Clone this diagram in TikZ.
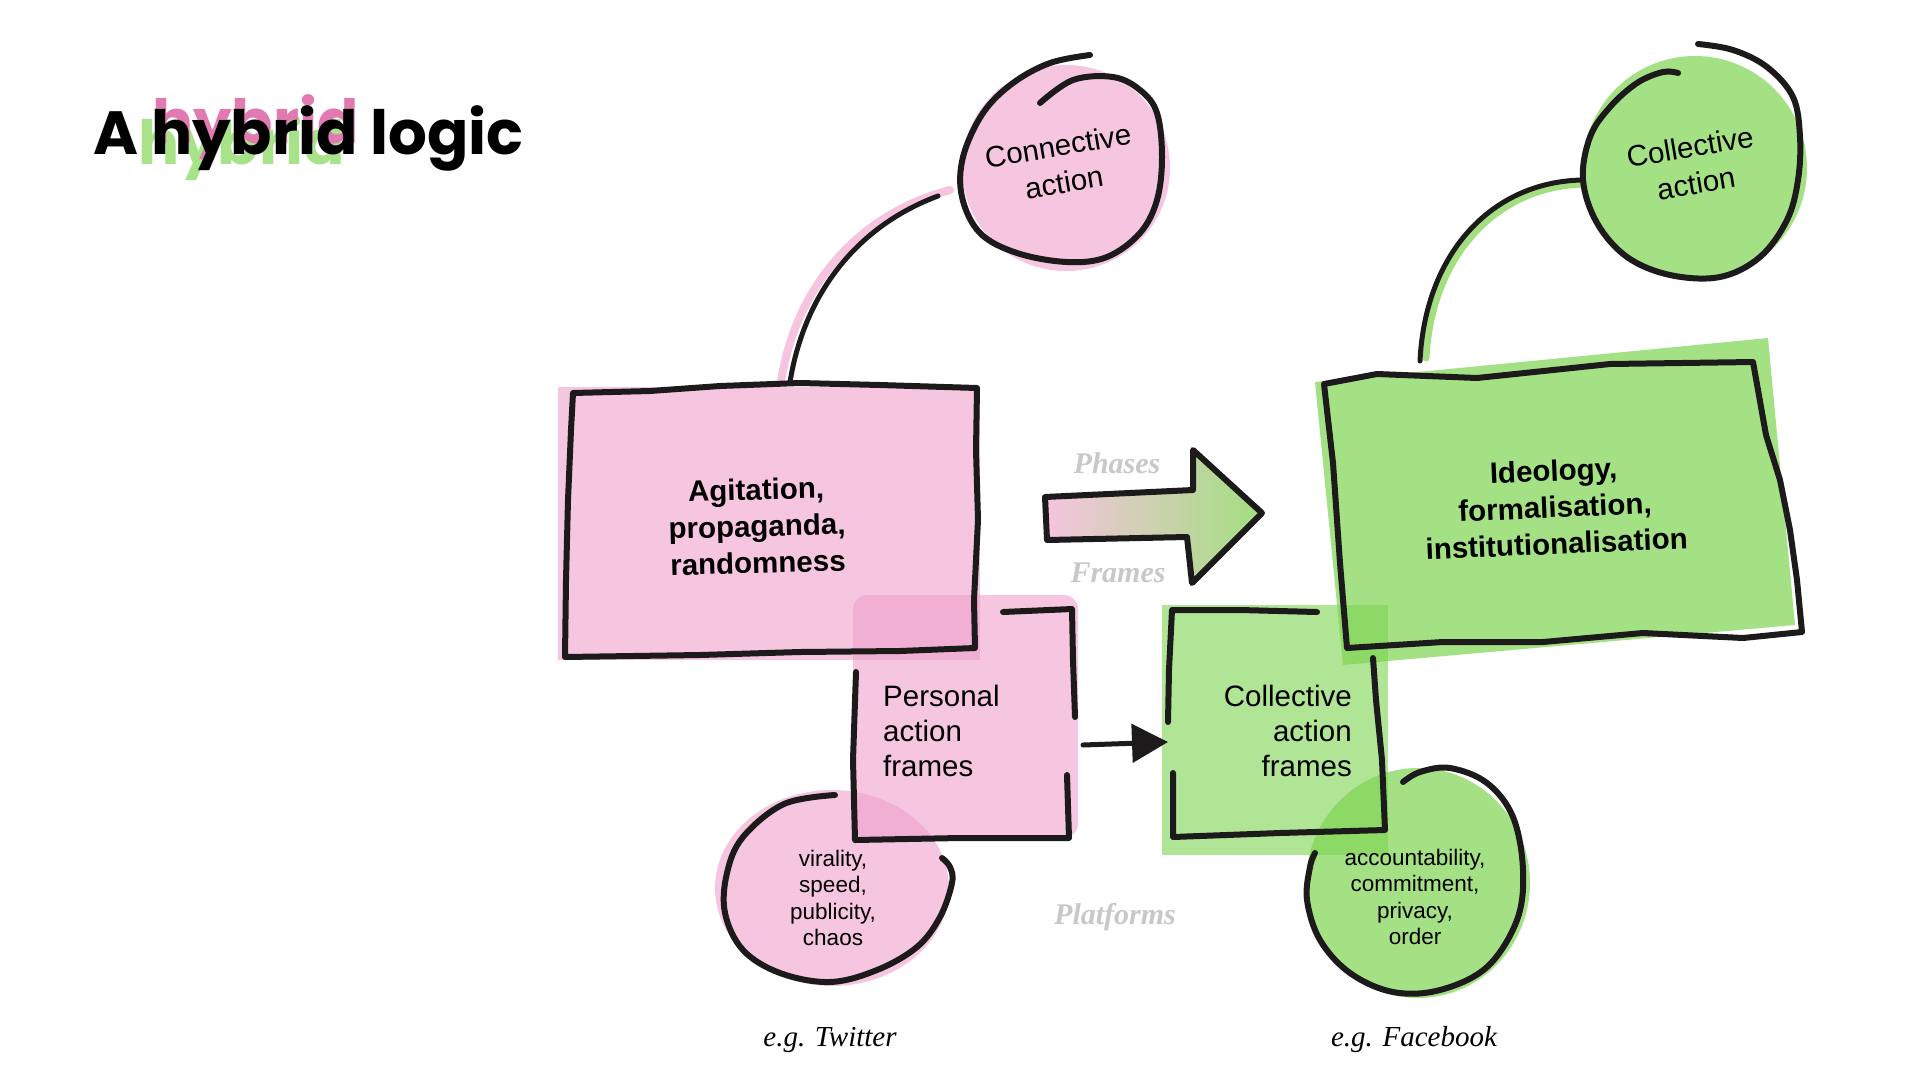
\documentclass[tikz,border=0pt]{standalone}
\usepackage{fontspec}
\setmainfont{Liberation Sans}
\newfontfamily\seriffont{Liberation Serif}
\newfontfamily\titlefont{Poppins}
\usetikzlibrary{arrows.meta}
\definecolor{pinkbase}{RGB}{240,160,204}
\definecolor{greenbase}{RGB}{126,213,81}
\definecolor{titlepink}{RGB}{224,122,176}
\definecolor{titlegreen}{RGB}{168,227,138}
\definecolor{shpink}{RGB}{246,196,223}
\definecolor{shgreen}{RGB}{163,222,128}
\definecolor{labelgray}{RGB}{200,200,200}
\definecolor{ink}{RGB}{28,26,26}
\tikzset{
  pen/.style={draw=ink, line width=6pt, line cap=round, line join=round},
  pinkfill/.style={fill=pinkbase, fill opacity=0.6},
  greenfill/.style={fill=greenbase, fill opacity=0.7},
  lightgreenfill/.style={fill=greenbase, fill opacity=0.6},
  boxtext/.style={font=\fontsize{29.5}{36.5}\selectfont\bfseries, align=center, inner sep=0pt},
  plaintext/.style={font=\fontsize{29.5}{35}\selectfont, inner sep=0pt},
  circtext/.style={font=\fontsize{29.5}{37}\selectfont, align=center, inner sep=0pt},
  smalltext/.style={font=\fontsize{22.5}{26.5}\selectfont, align=center, inner sep=0pt},
  graylabel/.style={font=\seriffont\fontsize{30}{36}\selectfont\bfseries\itshape, text=labelgray, inner sep=0pt},
  platlabel/.style={font=\seriffont\fontsize{29}{35}\selectfont\itshape, inner sep=0pt},
  titletext/.style={font=\titlefont\fontsize{61}{70}\selectfont\bfseries, inner sep=0pt, anchor=base west},
}
\begin{document}
\begin{tikzpicture}[x=1pt,y=-1pt]
\useasboundingbox[fill=white] (0,0) rectangle (1920,1080);

% ---------- title ----------
\node[titletext, text=titlegreen] (titleg) at (80,164) {\phantom{A }hybrid};
\node[titletext, text=titlepink] (titlep) at (94,143) {\phantom{A }hybrid};
\node[titletext] (title) at (93,154) {A hybrid logic};

% ---------- fills ----------
\fill[pinkfill] (1066,168) ellipse [x radius=104pt, y radius=103pt];
\fill[greenfill] (1695,168) ellipse [x radius=112pt, y radius=112pt];
\fill[pinkfill] (558,387) rectangle (980,660);
\fill[pinkfill, rounded corners=14pt] (853,838) -- (853,595) -- (1078,595) -- (1078,838) -- cycle;
\fill[pinkfill] (832,888) ellipse [x radius=117pt, y radius=98pt];
\fill[greenfill] (1315,382) -- (1768,338) -- (1795,625) -- (1343,665) -- cycle;
\fill[lightgreenfill] (1162,605) rectangle (1388,855);
\fill[greenfill] (1418,883) ellipse [x radius=112pt, y radius=115pt];

% ---------- anchor coordinates ----------
\coordinate (agitop) at (790,382);
\coordinate (conin) at (938,196);
\coordinate (ideotop) at (1420,361);
\coordinate (colin) at (1582,180);
\coordinate (persout) at (1083,745);
\coordinate (cafin) at (1168,742);

% ---------- connector shadows ----------
\draw[shpink, line width=8pt, line cap=round] (781,382) .. controls (795,290) and (855,215) .. (950,190);
\draw[shgreen, line width=7pt, line cap=round] (1426,358) .. controls (1431,258) and (1494,186) .. (1584,184);

% ---------- outlines ----------
% Agitation box
\draw[pen] (573,393) -- (650,391) -- (720,386) -- (800,383) -- (880,385) -- (977,388)
  -- (976,450) -- (978,520) -- (974,600) -- (975,648)
  -- (900,651) -- (800,652) -- (700,655) -- (565,657)
  -- (566,580) -- (568,500) -- (571,430) -- cycle;
% Personal action frames box
\draw[pen] (1003,612) -- (1072,609) -- (1073,660) -- (1075,717);
\draw[pen] (1067,775) -- (1069,838) -- (960,838) -- (855,840) -- (853,760) -- (856,672);
% Collective action frames box
\draw[pen] (1317,612) -- (1240,610) -- (1172,610) -- (1169,670) -- (1168,722);
\draw[pen] (1173,773) -- (1173,837) -- (1280,833) -- (1385,830) -- (1382,760) -- (1376,700) -- (1373,658);
% Ideology box
\draw[pen] (1324,384) -- (1377,374) -- (1477,378) -- (1610,364) -- (1753,362)
  -- (1758,390) -- (1766,435) -- (1780,480) -- (1790,530) -- (1797,580) -- (1802,632)
  -- (1743,638) -- (1643,633) -- (1543,642) -- (1443,642) -- (1347,648)
  -- (1340,563) -- (1333,463) -- cycle;
% Connective action circle
\draw[pen] plot[smooth, tension=0.6] coordinates {(1090,55) (1050,63) (1013,83) (983,113) (963,157) (962,197) (980,233) (1017,253) (1067,262) (1107,257) (1140,233) (1157,200) (1162,157) (1157,113) (1140,90) (1113,77) (1073,80) (1040,103)};
% Collective action circle
\draw[pen] plot[smooth, tension=0.6] coordinates {(1698,44) (1733,50) (1767,67) (1793,97) (1800,137) (1798,180) (1787,220) (1760,257) (1720,277) (1670,275) (1627,257) (1597,223) (1583,180) (1590,137) (1610,107) (1637,83) (1663,72) (1678,73)};
% virality circle
\draw[pen] plot[smooth, tension=0.6] coordinates {(942,858) (950,867) (952,883) (940,917) (917,947) (877,970) (830,982) (780,973) (743,950) (725,913) (727,873) (743,837) (784,804) (835,795)};
% accountability circle
\draw[pen] plot[smooth, tension=0.6] coordinates {(1403,782) (1420,772) (1450,768) (1487,783) (1513,817) (1523,870) (1517,920) (1487,967) (1440,990) (1393,992) (1350,973) (1320,940) (1307,900) (1310,867) (1315,853)};

% ---------- connectors ----------
\draw[pen, line width=5pt] (agitop) .. controls (805,290) and (860,225) .. (conin);
\draw[pen, line width=5pt] (ideotop) .. controls (1425,255) and (1490,182) .. (colin);
\draw[pen, line width=5pt, -{Triangle[length=36pt,width=38pt]}] (persout) -- (cafin);

% ---------- phases arrow ----------
\shade[left color=shpink, right color=shgreen] (1045,497) -- (1193,490) -- (1193,450) -- (1262,513) -- (1192,583) -- (1187,537) -- (1047,540) -- cycle;
\draw[pen] (1045,497) -- (1193,490) -- (1193,450) -- (1262,513) -- (1192,583) -- (1187,537) -- (1047,540) -- cycle;

% ---------- texts ----------
\node[boxtext, rotate=1.5] (agit) at (757,526) {Agitation,\\propaganda,\\randomness};
\node[boxtext, rotate=2.5] (ideo) at (1555,507) {Ideology,\\formalisation,\\institutionalisation};
\node[plaintext, align=left, anchor=north west] (pers) at (883,685) {Personal\\action\\frames};
\node[plaintext, align=right, anchor=north east] (caf) at (1352,685) {Collective\\action\\frames};
\node[circtext, rotate=9.5] (conn) at (1061,164) {Connective\\action};
\node[circtext, rotate=9.5] (coll) at (1693,165) {Collective\\action};
\node[smalltext] (viral) at (833,898) {virality,\\speed,\\publicity,\\chaos};
\node[smalltext] (acct) at (1415,897) {accountability,\\commitment,\\privacy,\\order};
\node[graylabel] (phases) at (1117,463) {Phases};
\node[graylabel] (frames) at (1118,573) {Frames};
\node[graylabel] (platforms) at (1115,917) {Platforms};
\node[platlabel] (twitter) at (830,1040) {e.g. Twitter};
\node[platlabel] (facebook) at (1414,1040) {e.g. Facebook};
\end{tikzpicture}
\end{document}
